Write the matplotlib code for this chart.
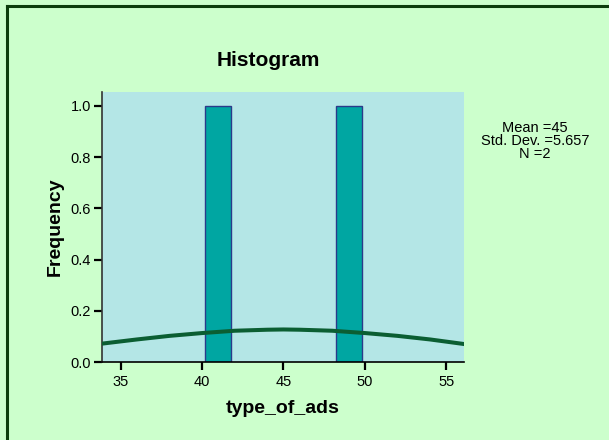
import matplotlib.pyplot as plt
import numpy as np

# histogram bins (type_of_ads) and counts
bin_left = [40.2, 48.2]
bin_width = 1.6
counts = [1, 1]

# normal curve
curve_x = [33.9, 36, 38, 40, 42, 44, 45, 46, 48, 50, 52, 54, 56.1]
curve_y = [0.072, 0.088, 0.102, 0.113, 0.122, 0.126, 0.127, 0.126, 0.122, 0.113, 0.102, 0.088, 0.070]

x_ticks = [35, 40, 45, 50, 55]
y_ticks = [0.0, 0.2, 0.4, 0.6, 0.8, 1.0]

stats_text = "Mean =45\nStd. Dev. =5.657\nN =2"

plt.rcParams["font.family"] = ["Liberation Sans", "DejaVu Sans"]

W, H = 609, 440
fig = plt.figure(figsize=(W / 100, H / 100), dpi=100, facecolor="#ccffcc")

# frame lines on top and left
fig.add_artist(plt.Line2D([6.5 / W, 1], [1 - 6.5 / H, 1 - 6.5 / H], color="#0b3d0b", lw=2.2))
fig.add_artist(plt.Line2D([6.5 / W, 6.5 / W], [0, 1 - 6.5 / H], color="#0b3d0b", lw=2.2))

ax = fig.add_axes([102 / W, 1 - 362 / H, (464 - 102) / W, (362 - 92) / H])
ax.set_facecolor("#b4e6e6")

ax.bar(bin_left, counts, width=bin_width, align="edge",
       color="#00a6a2", edgecolor="#2b3a8a", linewidth=1.0, zorder=2)
ax.plot(curve_x, curve_y, color="#0b5e32", lw=2.9, zorder=3)

ax.set_xlim(33.86, 56.08)
ax.set_ylim(0, 1.054)
ax.set_xticks(x_ticks)
ax.set_yticks(y_ticks)
ax.set_yticklabels([f"{v:.1f}" for v in y_ticks])

for s in ["top", "right"]:
    ax.spines[s].set_visible(False)
ax.spines["left"].set_color("#333333")
ax.spines["bottom"].set_color("black")
ax.spines["left"].set_linewidth(1.2)
ax.spines["bottom"].set_linewidth(1.2)
ax.tick_params(axis="both", direction="out", length=6, width=1.6, labelsize=10.5,
               colors="black", pad=2)
ax.tick_params(axis="x", pad=3.5)

ax.set_xlabel("type_of_ads", fontsize=14, fontweight="bold", labelpad=8)
ax.set_ylabel("Frequency", fontsize=14, fontweight="bold", labelpad=5)

fig.text(268 / W, 1 - 60 / H, "Histogram", ha="center", va="center",
         fontsize=15, fontweight="bold")
fig.text(535 / W, 1 - 141 / H, stats_text, ha="center", va="center",
         fontsize=10.5, linespacing=0.9)

fig.savefig("out.png", dpi=100, facecolor=fig.get_facecolor())
